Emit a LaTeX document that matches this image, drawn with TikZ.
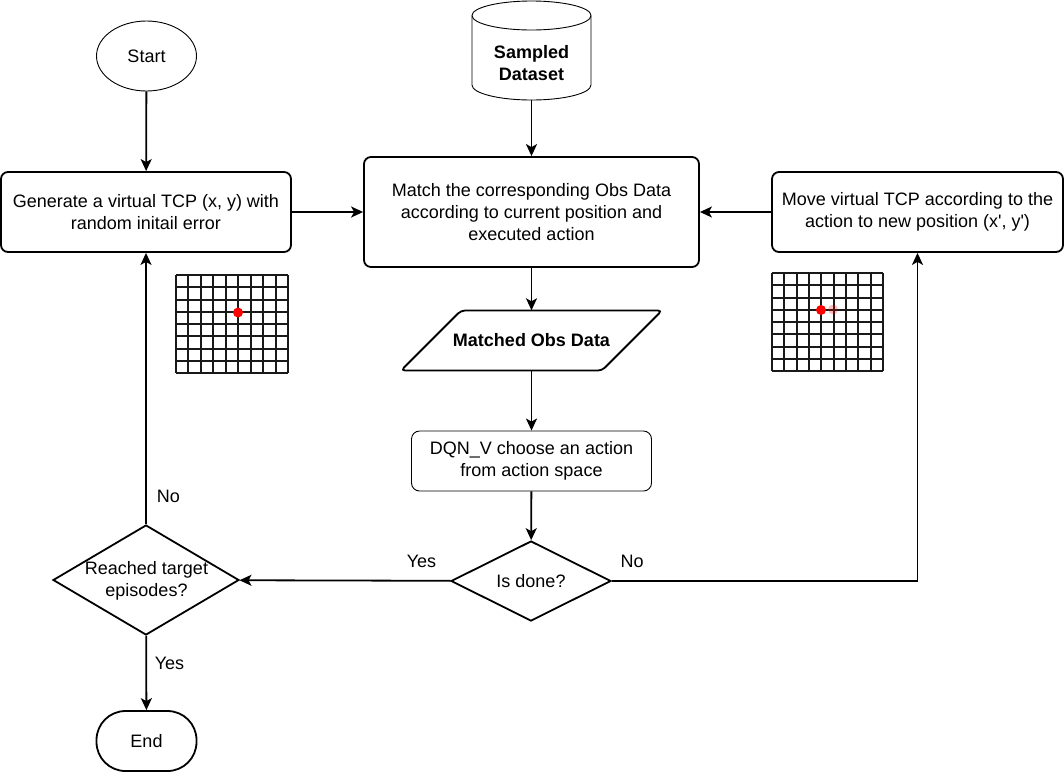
\documentclass[tikz,border=0pt]{standalone}
\usepackage{fontspec}
\setmainfont{Liberation Sans}
\usetikzlibrary{positioning, arrows.meta, shapes.geometric}
\tikzset{
    flowtext/.style={font=\fontsize{18}{22}\selectfont, align=center, inner sep=0pt},
    flowbox/.style={flowtext, draw, line width=1.8pt, rectangle, rounded corners=7pt},
    thinbox/.style={flowtext, draw, line width=0.9pt, rectangle, rounded corners=8pt},
    flowlink/.style={draw, line width=1.8pt, -{Stealth[length=12pt, width=11pt, inset=3pt]}},
    flowlabel/.style={flowtext},
    griddot/.style={circle, fill=red, inner sep=0pt, minimum size=10pt}
}
% one raster of the mesh, lower corner at #1, upper corner at #2
\def\meshgrid#1#2#3#4{%
    \foreach \i in {0,...,9}
    {
        \draw[line width=2pt, black!90] ({#1 + \i * (#3 - #1) / 9}, #2) -- ({#1 + \i * (#3 - #1) / 9}, #4);
    }
    \foreach \j in {0,...,8}
    {
        \draw[line width=2pt, black!90] (#1, {#2 + \j * (#4 - #2) / 8}) -- (#3, {#2 + \j * (#4 - #2) / 8});
    }
}
\begin{document}
\begin{tikzpicture}[x=1pt, y=-1pt]
    \useasboundingbox (0,0) rectangle (1064,772);
    \fill[white] (0,0) rectangle (1064,772);

    % terminals and boxes
    \node[flowtext, draw, line width=0.9pt, ellipse, minimum width=100pt, minimum height=70pt] (start) at (146.5,56) {Start};
    \node[flowtext, minimum width=120pt, minimum height=99pt] (dataset) at (531.5,50.5) {};
    \node[flowtext, font=\fontsize{18}{22}\selectfont\bfseries] (datasetlabel) at (531.5,63) {Sampled\\Dataset};
    \draw[line width=0.9pt] (531.5,15.5) ellipse [x radius=59.5pt, y radius=14.5pt];
    \draw[line width=0.9pt] (472,15.5) -- (472,85) arc[start angle=180, end angle=360, x radius=59.5pt, y radius=15pt] -- (591,15.5);
    \node[flowbox, minimum width=290pt, minimum height=80pt] (generate) at (146,212) {Generate a virtual TCP (x, y) with\\random initail error};
    \node[flowbox, minimum width=335pt, minimum height=110pt] (match) at (531.5,212) {Match the corresponding Obs Data\\according to current position and\\executed action};
    \node[flowbox, minimum width=291pt, minimum height=80pt] (move) at (917.5,212) {Move virtual TCP according to the\\action to new position (x\textquotesingle, y\textquotesingle)};
    \node[flowtext, minimum width=258pt, minimum height=60pt, font=\fontsize{18}{22}\selectfont\bfseries] (obsdata) at (531.5,340.5) {Matched Obs Data};
    \draw[line width=1.8pt, rounded corners=4pt] (401,370.5) -- (461,310.5) -- (662,310.5) -- (602,370.5) -- cycle;
    \node[thinbox, minimum width=240pt, minimum height=60pt] (dqn) at (531.5,461) {DQN\_V choose an action\\from action space};
    \node[flowtext, draw, line width=1.8pt, diamond, aspect=2, minimum width=160pt, minimum height=80pt] (isdone) at (531,581) {Is done?};
    \node[flowtext, draw, line width=1.8pt, diamond, aspect=1.7, minimum width=186pt, minimum height=110pt] (reached) at (146,580) {};
    \node[flowtext] (reachedlabel) at (146.5,581) {Reached target\\episodes?};
    \node[flowtext, draw, line width=1.8pt, rectangle, rounded corners=29pt, minimum width=100pt, minimum height=60pt] (finish) at (146.5,741) {End};

    % meshes
    \meshgrid{176}{275}{288}{373}
    \meshgrid{772}{273}{883}{371}
    \node[griddot] (dotleft) at (238,312.5) {};
    \node[griddot, opacity=0.25] (dotghost) at (833,309.5) {};
    \node[griddot] (dotright) at (821,310) {};

    % connectors
    \draw[flowlink] (start) -- (generate);
    \draw[flowlink] (dataset) -- (match);
    \draw[flowlink] (generate) -- (match);
    \draw[flowlink] (move) -- (match);
    \draw[flowlink] (match) -- (obsdata);
    \draw[flowlink] (obsdata) -- (dqn);
    \draw[flowlink] (dqn) -- (isdone);
    \draw[flowlink] (isdone) -- (reached);
    \draw[flowlink] (isdone.east) -| (move.south);
    \draw[flowlink] (reached) -- (generate);
    \draw[flowlink] (reached) -- (finish);

    % branch labels
    \node[flowlabel] (yesleft) at (421.5,561) {Yes};
    \node[flowlabel] (noright) at (632,561) {No};
    \node[flowlabel] (noup) at (168.5,496) {No};
    \node[flowlabel] (yesdown) at (169.5,663) {Yes};
\end{tikzpicture}
\end{document}
